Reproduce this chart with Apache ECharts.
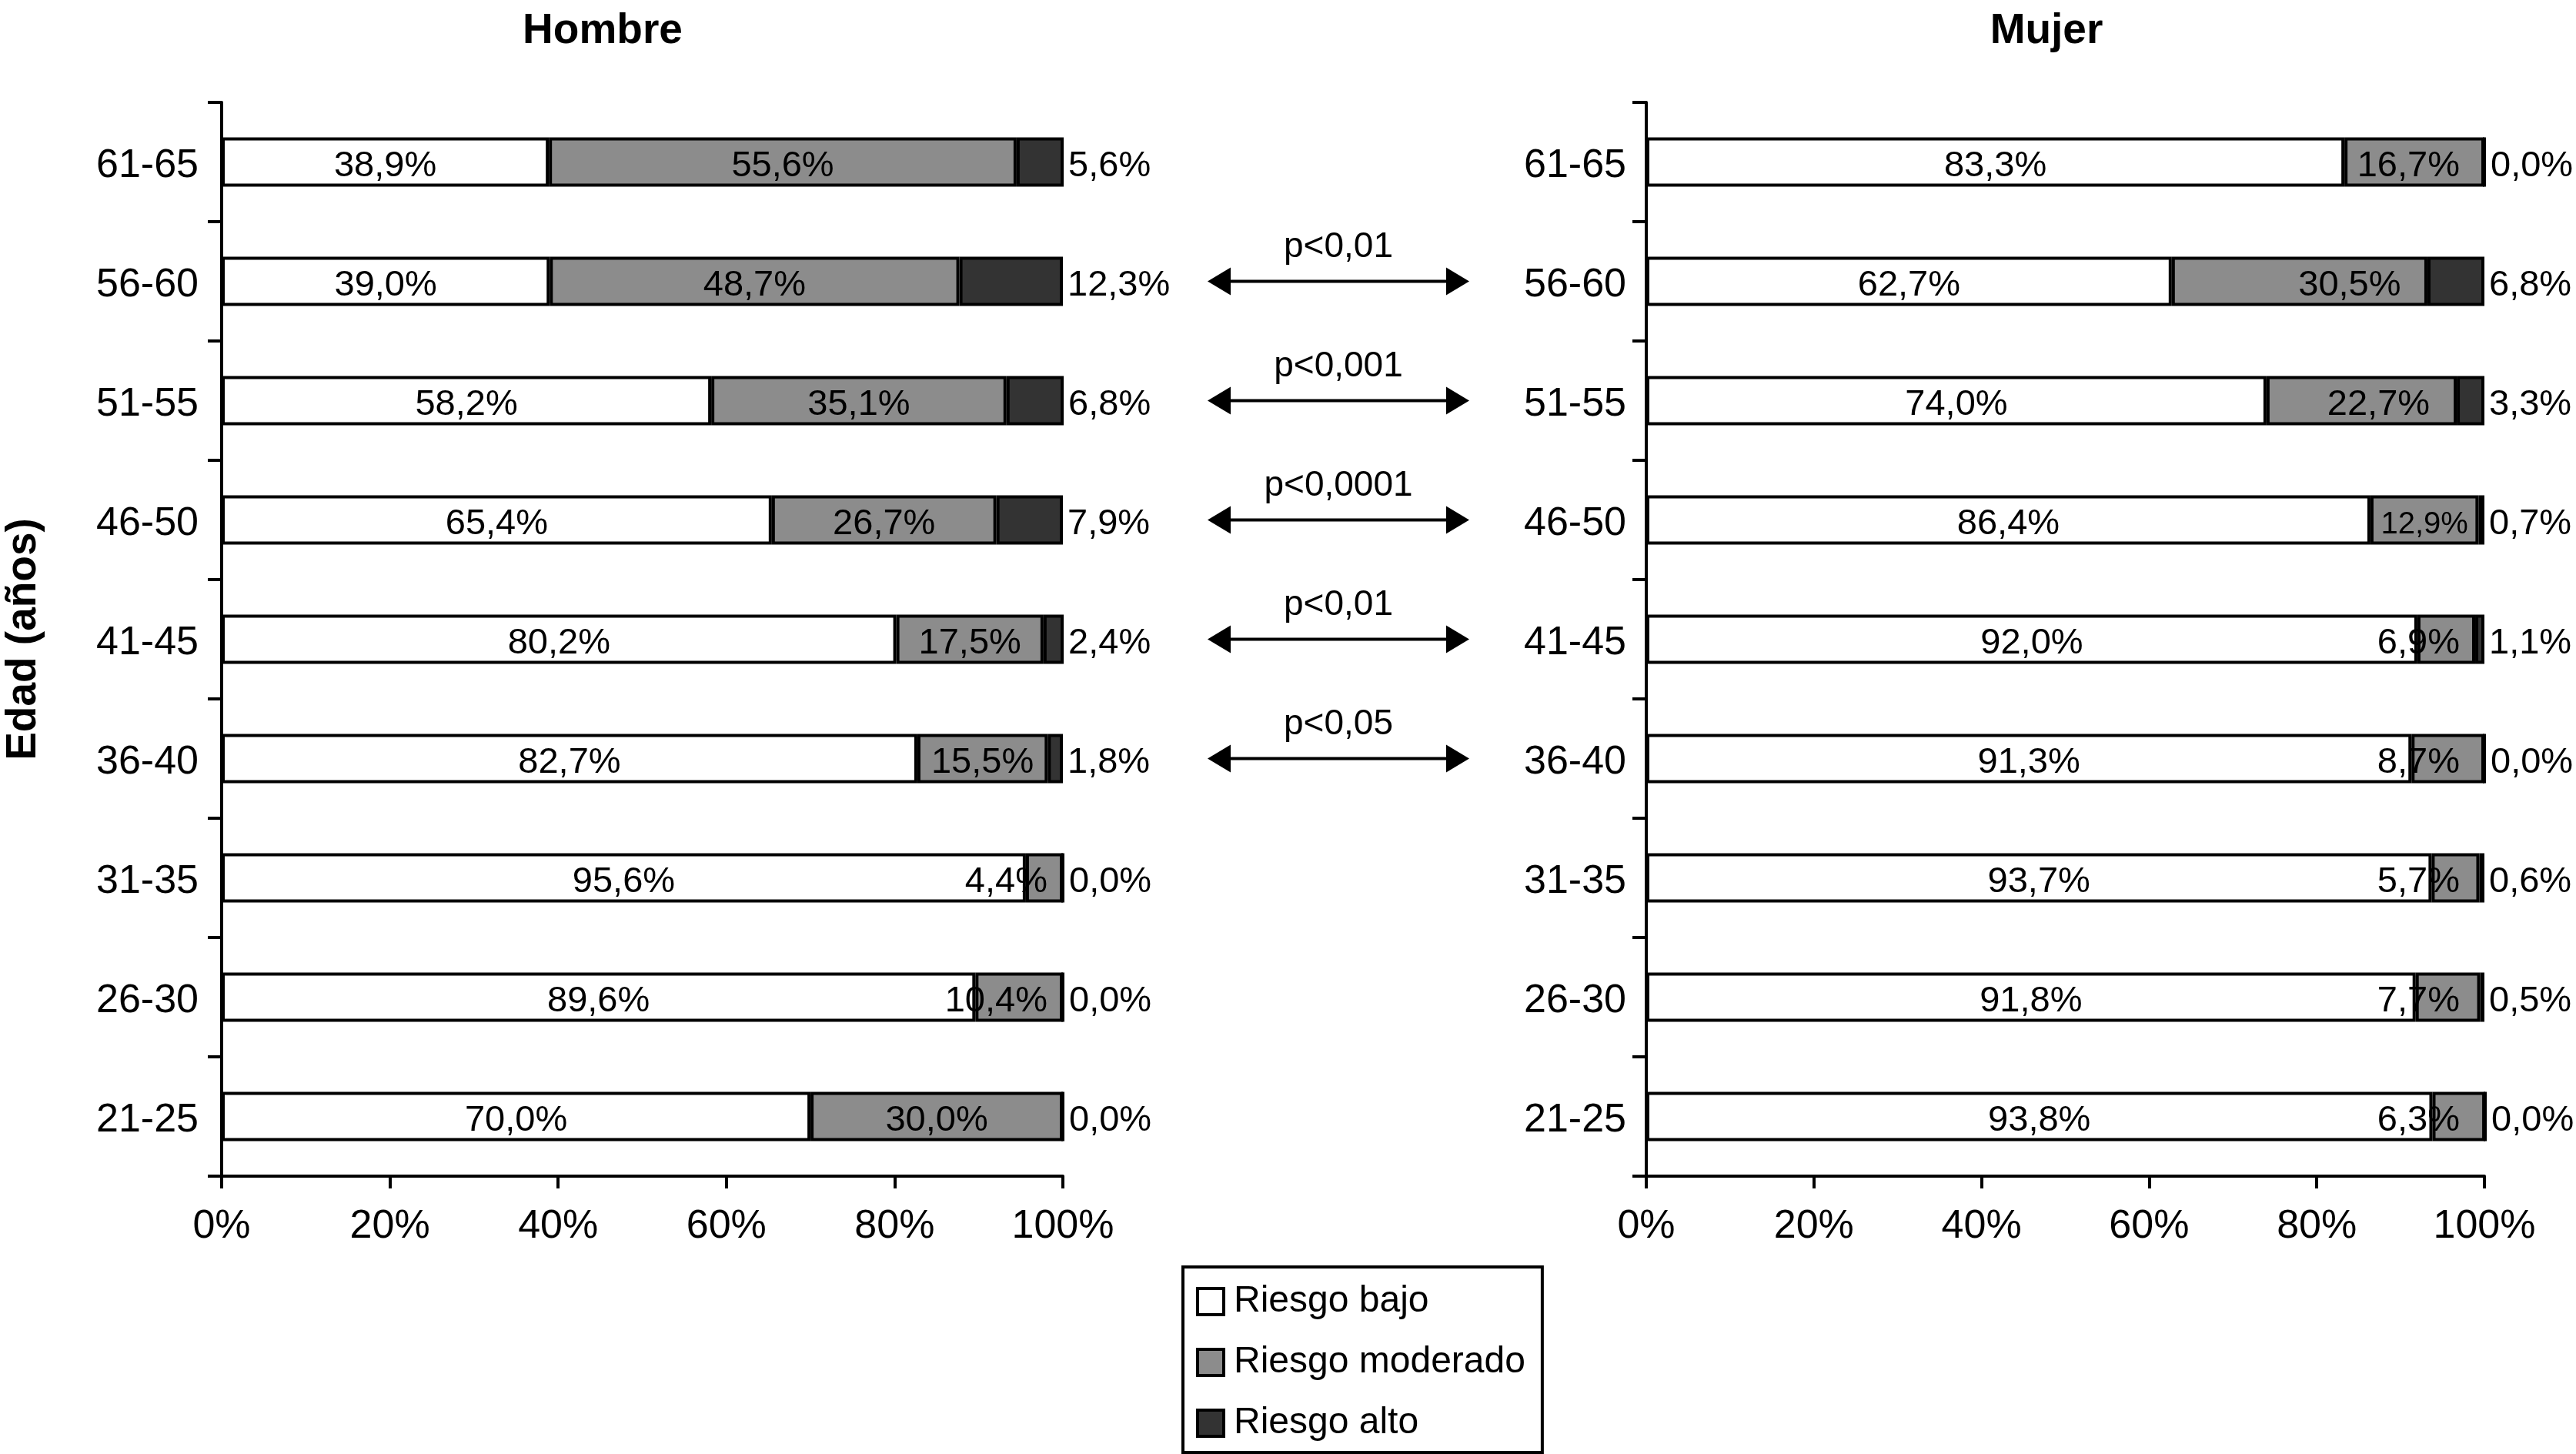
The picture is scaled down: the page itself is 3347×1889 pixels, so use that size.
<!DOCTYPE html>
<html><head><meta charset="utf-8">
<script src="https://cdn.jsdelivr.net/npm/echarts@6/dist/echarts.min.js"></script>
<style>html,body{margin:0;padding:0;background:#fff}#c{width:3347px;height:1889px}</style>
</head><body><div id="c"></div>
<script>
// ---- data ----
const categories = ['21-25','26-30','31-35','36-40','41-45','46-50','51-55','56-60','61-65'];
const seriesNames = ['Riesgo bajo','Riesgo moderado','Riesgo alto'];
const hombreBajo      = [70.0, 89.6, 95.6, 82.7, 80.2, 65.4, 58.2, 39.0, 38.9];
const hombreModerado  = [30.0, 10.4,  4.4, 15.5, 17.5, 26.7, 35.1, 48.7, 55.6];
const hombreAlto      = [ 0.0,  0.0,  0.0,  1.8,  2.4,  7.9,  6.8, 12.3,  5.6];
const mujerBajo       = [93.8, 91.8, 93.7, 91.3, 92.0, 86.4, 74.0, 62.7, 83.3];
const mujerModerado   = [ 6.3,  7.7,  5.7,  8.7,  6.9, 12.9, 22.7, 30.5, 16.7];
const mujerAlto       = [ 0.0,  0.5,  0.6,  0.0,  1.1,  0.7,  3.3,  6.8,  0.0];
const xTickValues = [0, 20, 40, 60, 80, 100];
const pTestRows  = ['56-60','51-55','46-50','41-45','36-40'];
const pTestTexts = ['p<0,01','p<0,001','p<0,0001','p<0,01','p<0,05'];

// ---- style ----
const FONT = '"Liberation Sans", Arial, Helvetica, sans-serif';
const colors = ['#ffffff', '#8c8c8c', '#333333'];
const layout = {
  hombre: {left: 288, width: 1093, pad: 20},
  mujer:  {left: 2139, width: 1089, pad: 32},
  mid:    {left: 1569, width: 340},
  top: 133, height: 1395
};
// manual label nudges seen in the original
const labelTweaks = {
  'mujer|1|56-60': {dx: 65},
  'mujer|1|51-55': {dx: 22},
  'mujer|1|46-50': {dx: 0, fontSize: 40}
};
const LABEL_DY = 6;
const ARROW = {len: 30, half: 18, width: 4, textGap: 44, fontSize: 46};

const cv = document.createElement('canvas').getContext('2d');
function measure(t, fs) { cv.font = fs + 'px ' + FONT; return cv.measureText(t).width; }
function fmt(v) { return v.toFixed(1).replace('.', ',') + '%'; }

function buildPanel(key, values, gi) {
  const L = layout[key];
  const k = L.width / 100;
  return values.map((vals, s) => {
    const data = vals.map((v, i) => {
      const item = {value: v};
      if (s < 2) {
        let start = 0;
        for (let j = 0; j < s; j++) start += values[j][i];
        const tw = labelTweaks[key + '|' + s + '|' + categories[i]] || {};
        const fs = tw.fontSize || 47;
        let dx;
        if (tw.dx !== undefined) dx = tw.dx;
        else {
          const c = (start + v / 2) * k;
          const right = c + measure(fmt(v), fs) / 2;
          dx = Math.min(0, 100 * k - L.pad - right);
        }
        item.label = {offset: [dx, LABEL_DY], fontSize: fs};
      }
      return item;
    });
    return {
      type: 'bar', name: seriesNames[s], stack: key, clip: false,
      xAxisIndex: gi, yAxisIndex: gi, barWidth: 64,
      itemStyle: {color: colors[s], borderColor: '#000', borderWidth: 4},
      label: {show: true, position: s < 2 ? 'inside' : 'right', distance: 6,
        offset: [0, LABEL_DY],
        formatter: p => fmt(p.value), fontSize: 47, color: '#000', fontFamily: FONT},
      emphasis: {disabled: true},
      data
    };
  });
}

function xAxisDef(gi) {
  return {
    gridIndex: gi, type: 'value', min: 0, max: 100, interval: 20,
    axisLine: {show: true, lineStyle: {color: '#000', width: 4}},
    axisTick: {show: true, length: 16, lineStyle: {color: '#000', width: 4}},
    axisLabel: {formatter: v => xTickValues.includes(v) ? v + '%' : '', fontSize: 52, color: '#000', margin: 40, fontFamily: FONT},
    splitLine: {show: false}
  };
}
function yAxisDef(gi, margin, extra) {
  return Object.assign({
    gridIndex: gi, type: 'category', data: categories,
    axisLine: {show: true, lineStyle: {color: '#000', width: 4}},
    axisTick: {show: true, length: 18, lineStyle: {color: '#000', width: 4}},
    axisLabel: {
      formatter: v => '{c|' + v + '}', margin: margin,
      rich: {c: {fontSize: 52, color: '#000', fontFamily: FONT, padding: [10, 0, 0, 0]}}
    },
    splitLine: {show: false}
  }, extra || {});
}

function renderArrow(params, api) {
  const row = api.value(0);
  const p0 = api.coord([0, row]);
  const p1 = api.coord([1, row]);
  const y = p0[1];
  const x0 = p0[0], x1 = p1[0];
  return {
    type: 'group',
    children: [
      {type: 'line', shape: {x1: x0 + ARROW.len - 2, y1: y, x2: x1 - ARROW.len + 2, y2: y},
        style: {stroke: '#000', lineWidth: ARROW.width}},
      {type: 'polygon', shape: {points: [[x0, y], [x0 + ARROW.len, y - ARROW.half], [x0 + ARROW.len, y + ARROW.half]]},
        style: {fill: '#000'}},
      {type: 'polygon', shape: {points: [[x1, y], [x1 - ARROW.len, y - ARROW.half], [x1 - ARROW.len, y + ARROW.half]]},
        style: {fill: '#000'}},
      {type: 'text', style: {text: pTestTexts[params.dataIndex], x: (x0 + x1) / 2, y: y - ARROW.textGap,
        align: 'center', verticalAlign: 'middle', fontSize: ARROW.fontSize, fontFamily: FONT, fill: '#000'}}
    ]
  };
}

const series = [].concat(
  buildPanel('hombre', [hombreBajo, hombreModerado, hombreAlto], 0),
  buildPanel('mujer', [mujerBajo, mujerModerado, mujerAlto], 1),
  [{
    type: 'custom', xAxisIndex: 2, yAxisIndex: 2, renderItem: renderArrow,
    encode: {y: 0}, silent: true,
    data: pTestRows.map(r => [categories.indexOf(r)])
  }]
);

const option = {
  animation: false,
  backgroundColor: '#fff',
  textStyle: {fontFamily: FONT, color: '#000'},
  title: [
    {text: 'Hombre', left: 778, top: 8, textAlign: 'center',
      textStyle: {fontSize: 55, fontWeight: 'bold', color: '#000', fontFamily: FONT}},
    {text: 'Mujer', left: 2654, top: 8, textAlign: 'center',
      textStyle: {fontSize: 55, fontWeight: 'bold', color: '#000', fontFamily: FONT}}
  ],
  legend: {
    orient: 'vertical', left: 1537, top: 1646,
    data: seriesNames, icon: 'rect',
    itemWidth: 34, itemHeight: 34, itemGap: 31,
    borderColor: '#000', borderWidth: 4, padding: [21, 22, 14, 17],
    itemStyle: {borderColor: '#000', borderWidth: 4},
    textStyle: {fontSize: 48, lineHeight: 48, color: '#000', fontFamily: FONT, padding: [0, 0, 0, 8]},
    selectedMode: false
  },
  grid: [
    {left: layout.hombre.left, width: layout.hombre.width, top: layout.top, height: layout.height},
    {left: layout.mujer.left, width: layout.mujer.width, top: layout.top, height: layout.height},
    {left: layout.mid.left, width: layout.mid.width, top: layout.top, height: layout.height}
  ],
  xAxis: [xAxisDef(0), xAxisDef(1),
    {gridIndex: 2, type: 'value', min: 0, max: 1, show: false}],
  yAxis: [
    yAxisDef(0, 30, {name: 'Edad (años)', nameLocation: 'middle', nameRotate: 90, nameGap: 230,
      nameTextStyle: {fontSize: 55, fontWeight: 'bold', color: '#000', fontFamily: FONT}}),
    yAxisDef(1, 26),
    {gridIndex: 2, type: 'category', data: categories, show: false}
  ],
  series
};
const chart = echarts.init(document.getElementById('c'), null, {renderer: 'canvas', devicePixelRatio: 1});
chart.setOption(option);
</script></body></html>
